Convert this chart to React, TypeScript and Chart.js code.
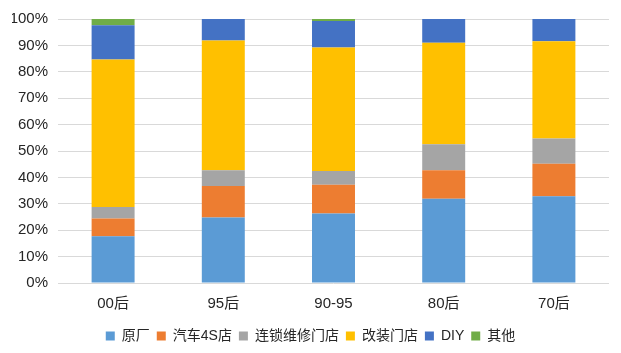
import React, { useEffect, useRef } from "react";
import { Chart, registerables } from "chart.js";

Chart.register(...registerables);

const categories = ["00后", "95后", "90-95", "80后", "70后"];
const seriesNames = ["原厂", "汽车4S店", "连锁维修门店", "改装门店", "DIY", "其他"];
const yuanchang = [17.7, 24.8, 26.3, 31.9, 32.9];
const qiche4s = [6.7, 11.9, 10.9, 10.8, 12.3];
const liansuo = [4.4, 6.0, 5.2, 9.9, 9.5];
const gaizhuang = [55.9, 49.2, 46.8, 38.4, 36.9];
const diy = [12.9, 8.1, 10.0, 9.0, 8.4];
const qita = [2.4, 0, 0.8, 0, 0];
const colors = ["#5B9BD5", "#ED7D31", "#A5A5A5", "#FFC000", "#4472C4", "#70AD47"];
const yTicks = [0, 10, 20, 30, 40, 50, 60, 70, 80, 90, 100];

const FONT = '"Liberation Sans", "Noto Sans CJK SC", sans-serif';

export default function App() {
  const ref = useRef<HTMLCanvasElement | null>(null);
  useEffect(() => {
    const values = [yuanchang, qiche4s, liansuo, gaizhuang, diy, qita];
    const chart = new Chart(ref.current!, {
      type: "bar",
      data: {
        labels: categories,
        datasets: seriesNames.map((n, i) => ({
          label: n,
          data: values[i],
          backgroundColor: colors[i],
          borderWidth: 0,
          categoryPercentage: 1,
          barPercentage: 0.39,
        })),
      },
      options: {
        responsive: false,
        animation: false,
        maintainAspectRatio: false,
        layout: { padding: { left: 12, right: 12, top: 7, bottom: 0 } },
        plugins: {
          tooltip: { enabled: false },
          legend: {
            position: "bottom",
            labels: {
              boxWidth: 9,
              boxHeight: 9,
              padding: 7,
              color: "#262626",
              font: { family: FONT, size: 14 },
            },
          },
        },
        scales: {
          x: {
            stacked: true,
            grid: { display: false },
            border: { display: false },
            afterFit: (s: any) => {
              s.height += 5;
            },
            ticks: { color: "#262626", font: { family: FONT, size: 15 }, padding: 4 },
          },
          y: {
            stacked: true,
            min: 0,
            max: 100,
            afterBuildTicks: (s: any) => {
              s.ticks = yTicks.map((v) => ({ value: v }));
            },
            afterFit: (s: any) => {
              s.width = 46;
            },
            grid: { color: "#D9D9D9", drawTicks: false, lineWidth: 1 },
            border: { display: false },
            ticks: {
              color: "#262626",
              font: { family: FONT, size: 15 },
              padding: 10,
              callback: (v: any) => v + "%",
            },
          },
        },
      },
    });
    return () => chart.destroy();
  }, []);
  return (
    <div style={{ position: "fixed", left: 0, top: 0, width: 621, height: 353, background: "#fff" }}>
      <canvas ref={ref} width={621} height={353} style={{ width: 621, height: 353 }} />
    </div>
  );
}
